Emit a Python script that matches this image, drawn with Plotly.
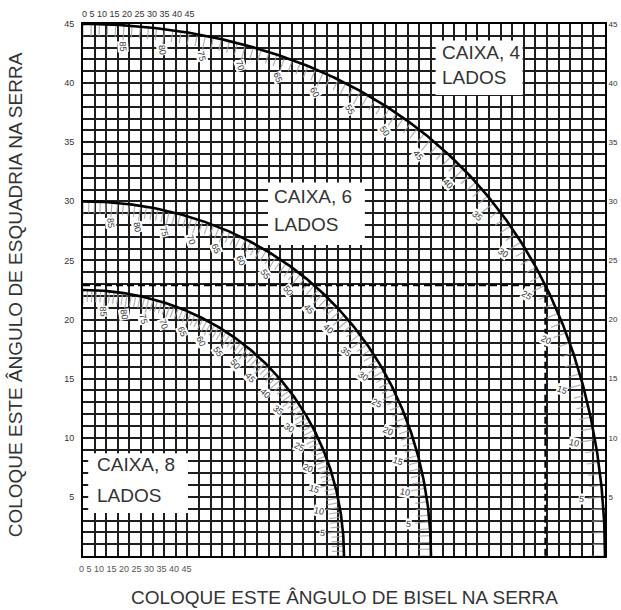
import numpy as np
import plotly.graph_objects as go

# ---------------- data ----------------
box_sides = [4, 6, 8]
box_line1 = ["CAIXA, 4", "CAIXA, 6", "CAIXA, 8"]
box_line2 = ["LADOS", "LADOS", "LADOS"]
slope_labels = list(range(5, 90, 5))          # 5 .. 85 written along each curve
hatch_angles = list(range(0, 91))             # one hatch tick per degree
example_sides = 4
example_slope = 25                            # dashed example read-off
y_tick_values = list(range(0, 46))
y_tick_text = [str(v) if (v % 5 == 0 and v > 0) else "" for v in y_tick_values]
scale_text = "0 5 10 15 20 25 30 35 40 45"
x_title = "COLOQUE ESTE ÂNGULO DE BISEL NA SERRA"
y_title = "COLOQUE ESTE ÂNGULO DE ESQUADRIA NA SERRA"

# ---------------- geometry helpers ----------------
W, H = 621, 610
ML, MR, MT, MB = 83, 16, 24, 54
SX = (W - ML - MR) / 45.0
SY = (H - MT - MB) / 45.0
FONT = "Liberation Sans, Arial, sans-serif"
TXT = "#333333"


def bevel_miter(n, s_deg):
    half = np.pi / n
    s = np.radians(s_deg)
    bevel = np.degrees(np.arcsin(np.cos(s) * np.sin(half)))
    miter = np.degrees(np.arctan(np.sin(s) * np.tan(half)))
    return bevel, miter


def inward_normal(n, s_deg):
    b0, m0 = bevel_miter(n, s_deg - 0.05)
    b1, m1 = bevel_miter(n, s_deg + 0.05)
    tx, ty = (b1 - b0) * SX, (m1 - m0) * SY
    l = np.hypot(tx, ty)
    nx, ny = -ty / l, tx / l
    b, m = bevel_miter(n, s_deg)
    if nx * b * SX + ny * m * SY > 0:
        nx, ny = -nx, -ny
    return nx, ny


fig = go.Figure()

# hatch ticks
for n in box_sides:
    hx, hy = [], []
    for a in hatch_angles:
        b, m = bevel_miter(n, a)
        nx, ny = inward_normal(n, min(max(a, 0.1), 89.9))
        ln = 15 if a % 5 == 0 else 12
        hx += [b, b + nx * ln / SX, None]
        hy += [m, m + ny * ln / SY, None]
    fig.add_trace(go.Scatter(x=hx, y=hy, mode="lines",
                             line=dict(color="rgba(160,160,160,0.8)", width=1.2),
                             hoverinfo="skip", showlegend=False, cliponaxis=True))

# dashed example lines
eb, em = bevel_miter(example_sides, example_slope)
fig.add_trace(go.Scatter(x=[0, eb, eb], y=[em, em, 0], mode="lines",
                         line=dict(color="black", width=2, dash="7px,4px"),
                         hoverinfo="skip", showlegend=False))

# curves
s_dense = np.linspace(0, 90, 361)
for n in box_sides:
    b, m = bevel_miter(n, s_dense)
    fig.add_trace(go.Scatter(x=b, y=m, mode="lines",
                             line=dict(color="black", width=2.6),
                             hoverinfo="skip", showlegend=False, cliponaxis=False))

# invisible trace for right axis
fig.add_trace(go.Scatter(x=[0], y=[0], yaxis="y2", mode="markers",
                         marker=dict(opacity=0), hoverinfo="skip", showlegend=False))

annotations = []
# slope labels along curves
for n in box_sides:
    for a in slope_labels:
        b, m = bevel_miter(n, a)
        nx, ny = inward_normal(n, a)
        off = 21
        lx, ly = b + nx * off / SX, m + ny * off / SY
        ang = np.degrees(np.arctan2(m * SY, b * SX))
        annotations.append(dict(x=lx, y=ly, xref="x", yref="y", text=str(a),
                                showarrow=False, textangle=ang,
                                font=dict(family=FONT, size=9, color=TXT),
                                bgcolor="white", borderpad=0))

# boxes
box_rects = {4: (30.4, 39.0, 37.9, 43.6), 6: (15.95, 26.3, 24.3, 31.6), 8: (0.45, 3.64, 9.05, 8.7)}
box_text_pos = {4: (30.8, 42.55, 40.44), 6: (16.3, 30.37, 28.0), 8: (1.0, 7.7, 5.16)}
shapes = []
for i, n in enumerate(box_sides):
    x0, y0, x1, y1 = box_rects[n]
    shapes.append(dict(type="rect", xref="x", yref="y", x0=x0, y0=y0, x1=x1, y1=y1,
                       fillcolor="white", line=dict(width=0), layer="above"))
    tx, t1, t2 = box_text_pos[n]
    annotations.append(dict(x=tx, y=t1, xref="x", yref="y", text=box_line1[i],
                            showarrow=False, xanchor="left", yanchor="middle",
                            font=dict(family=FONT, size=19, color=TXT)))
    annotations.append(dict(x=tx, y=t2, xref="x", yref="y", text=box_line2[i],
                            showarrow=False, xanchor="left", yanchor="middle",
                            font=dict(family=FONT, size=19, color=TXT)))

# squeezed scale texts top and bottom
annotations.append(dict(x=0, y=1, xref="x", yref="paper", text=scale_text, showarrow=False,
                        xanchor="left", yanchor="bottom", xshift=-3, yshift=3,
                        font=dict(family=FONT, size=9, color=TXT)))
annotations.append(dict(x=0, y=0, xref="x", yref="paper", text=scale_text, showarrow=False,
                        xanchor="left", yanchor="top", xshift=-6, yshift=-6,
                        font=dict(family=FONT, size=9, color="#555555")))

# axis titles
annotations.append(dict(x=0.5, y=0, xref="paper", yref="paper", text=x_title, showarrow=False,
                        xanchor="center", yanchor="middle", yshift=-41,
                        font=dict(family=FONT, size=19, color=TXT)))
annotations.append(dict(x=0, y=0.49, xref="paper", yref="paper", text=y_title, showarrow=False,
                        xanchor="center", yanchor="middle", xshift=-68, textangle=-90,
                        font=dict(family=FONT, size=19, color=TXT)))

axis_common = dict(range=[0, 45], showgrid=True, gridcolor="#1e1e1e", gridwidth=1.5,
                   zeroline=False, showline=True, mirror=True, linecolor="black",
                   linewidth=2, fixedrange=True, automargin=False)

fig.update_layout(
    width=W, height=H,
    margin=dict(l=ML, r=MR, t=MT, b=MB, autoexpand=False),
    paper_bgcolor="white", plot_bgcolor="white",
    xaxis=dict(**axis_common, tickmode="linear", tick0=0, dtick=1, showticklabels=False, ticks=""),
    yaxis=dict(**axis_common, tickmode="array", tickvals=y_tick_values, ticktext=y_tick_text,
               ticks="outside", ticklen=5, tickcolor="rgba(0,0,0,0)",
               tickfont=dict(family=FONT, size=9, color=TXT)),
    yaxis2=dict(range=[0, 45], overlaying="y", side="right", showgrid=False, zeroline=False,
                tickmode="array", tickvals=y_tick_values, ticktext=y_tick_text,
                ticks="outside", ticklen=1, tickcolor="rgba(0,0,0,0)", automargin=False,
                tickfont=dict(family=FONT, size=8, color=TXT), fixedrange=True),
    shapes=shapes,
    annotations=annotations,
    showlegend=False,
)

fig.write_html("out.html")
